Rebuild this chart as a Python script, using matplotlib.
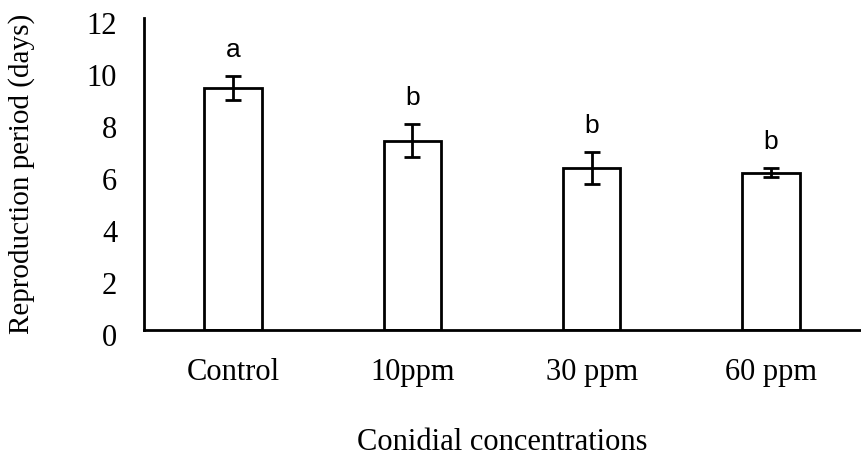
import numpy as np
import matplotlib
matplotlib.use("Agg")
import matplotlib.pyplot as plt
import matplotlib.transforms as mtransforms

categories = ["Control", "10ppm", "30 ppm", "60 ppm"]
means = [9.30, 7.28, 6.24, 6.04]
errors = [0.46, 0.64, 0.62, 0.17]
letters = ["a", "b", "b", "b"]

plt.rcParams["font.family"] = "Liberation Serif"

fig = plt.figure(figsize=(8.61, 4.57), dpi=100)
ax = fig.add_axes([0.1667, 0.278, 0.833, 0.683])

x = np.arange(len(categories))
ax.bar(x, means, width=0.32, color="white", edgecolor="black", linewidth=2)
ax.errorbar(x, means, yerr=errors, fmt="none", ecolor="black",
            elinewidth=2, capsize=6, capthick=2)

for xi, m, e, lab in zip(x, means, errors, letters):
    ax.text(xi, m + e + 1.0, lab, ha="center", va="center",
            fontsize=19, family="Liberation Sans")

ax.set_xlim(-0.5, 3.5)
ax.set_ylim(0, 12)
ax.set_yticks(range(0, 13, 2))
ax.set_xticks(x)
ax.set_xticklabels(categories)
ax.tick_params(axis="both", length=0, labelsize=22)
ax.tick_params(axis="y", pad=19)
ax.tick_params(axis="x", pad=20)

# excel puts the value labels a bit lower than the gridline
shift = mtransforms.ScaledTranslation(0, -5 / 100, fig.dpi_scale_trans)
for t in ax.get_yticklabels():
    t.set_transform(t.get_transform() + shift)

for s in ["top", "right"]:
    ax.spines[s].set_visible(False)
for s in ["left", "bottom"]:
    ax.spines[s].set_linewidth(2)

ax.set_xlabel("Conidial concentrations", fontsize=22, labelpad=30)
ax.set_ylabel("Reproduction period (days)", fontsize=21, labelpad=37)

fig.savefig("out.png", dpi=100)
